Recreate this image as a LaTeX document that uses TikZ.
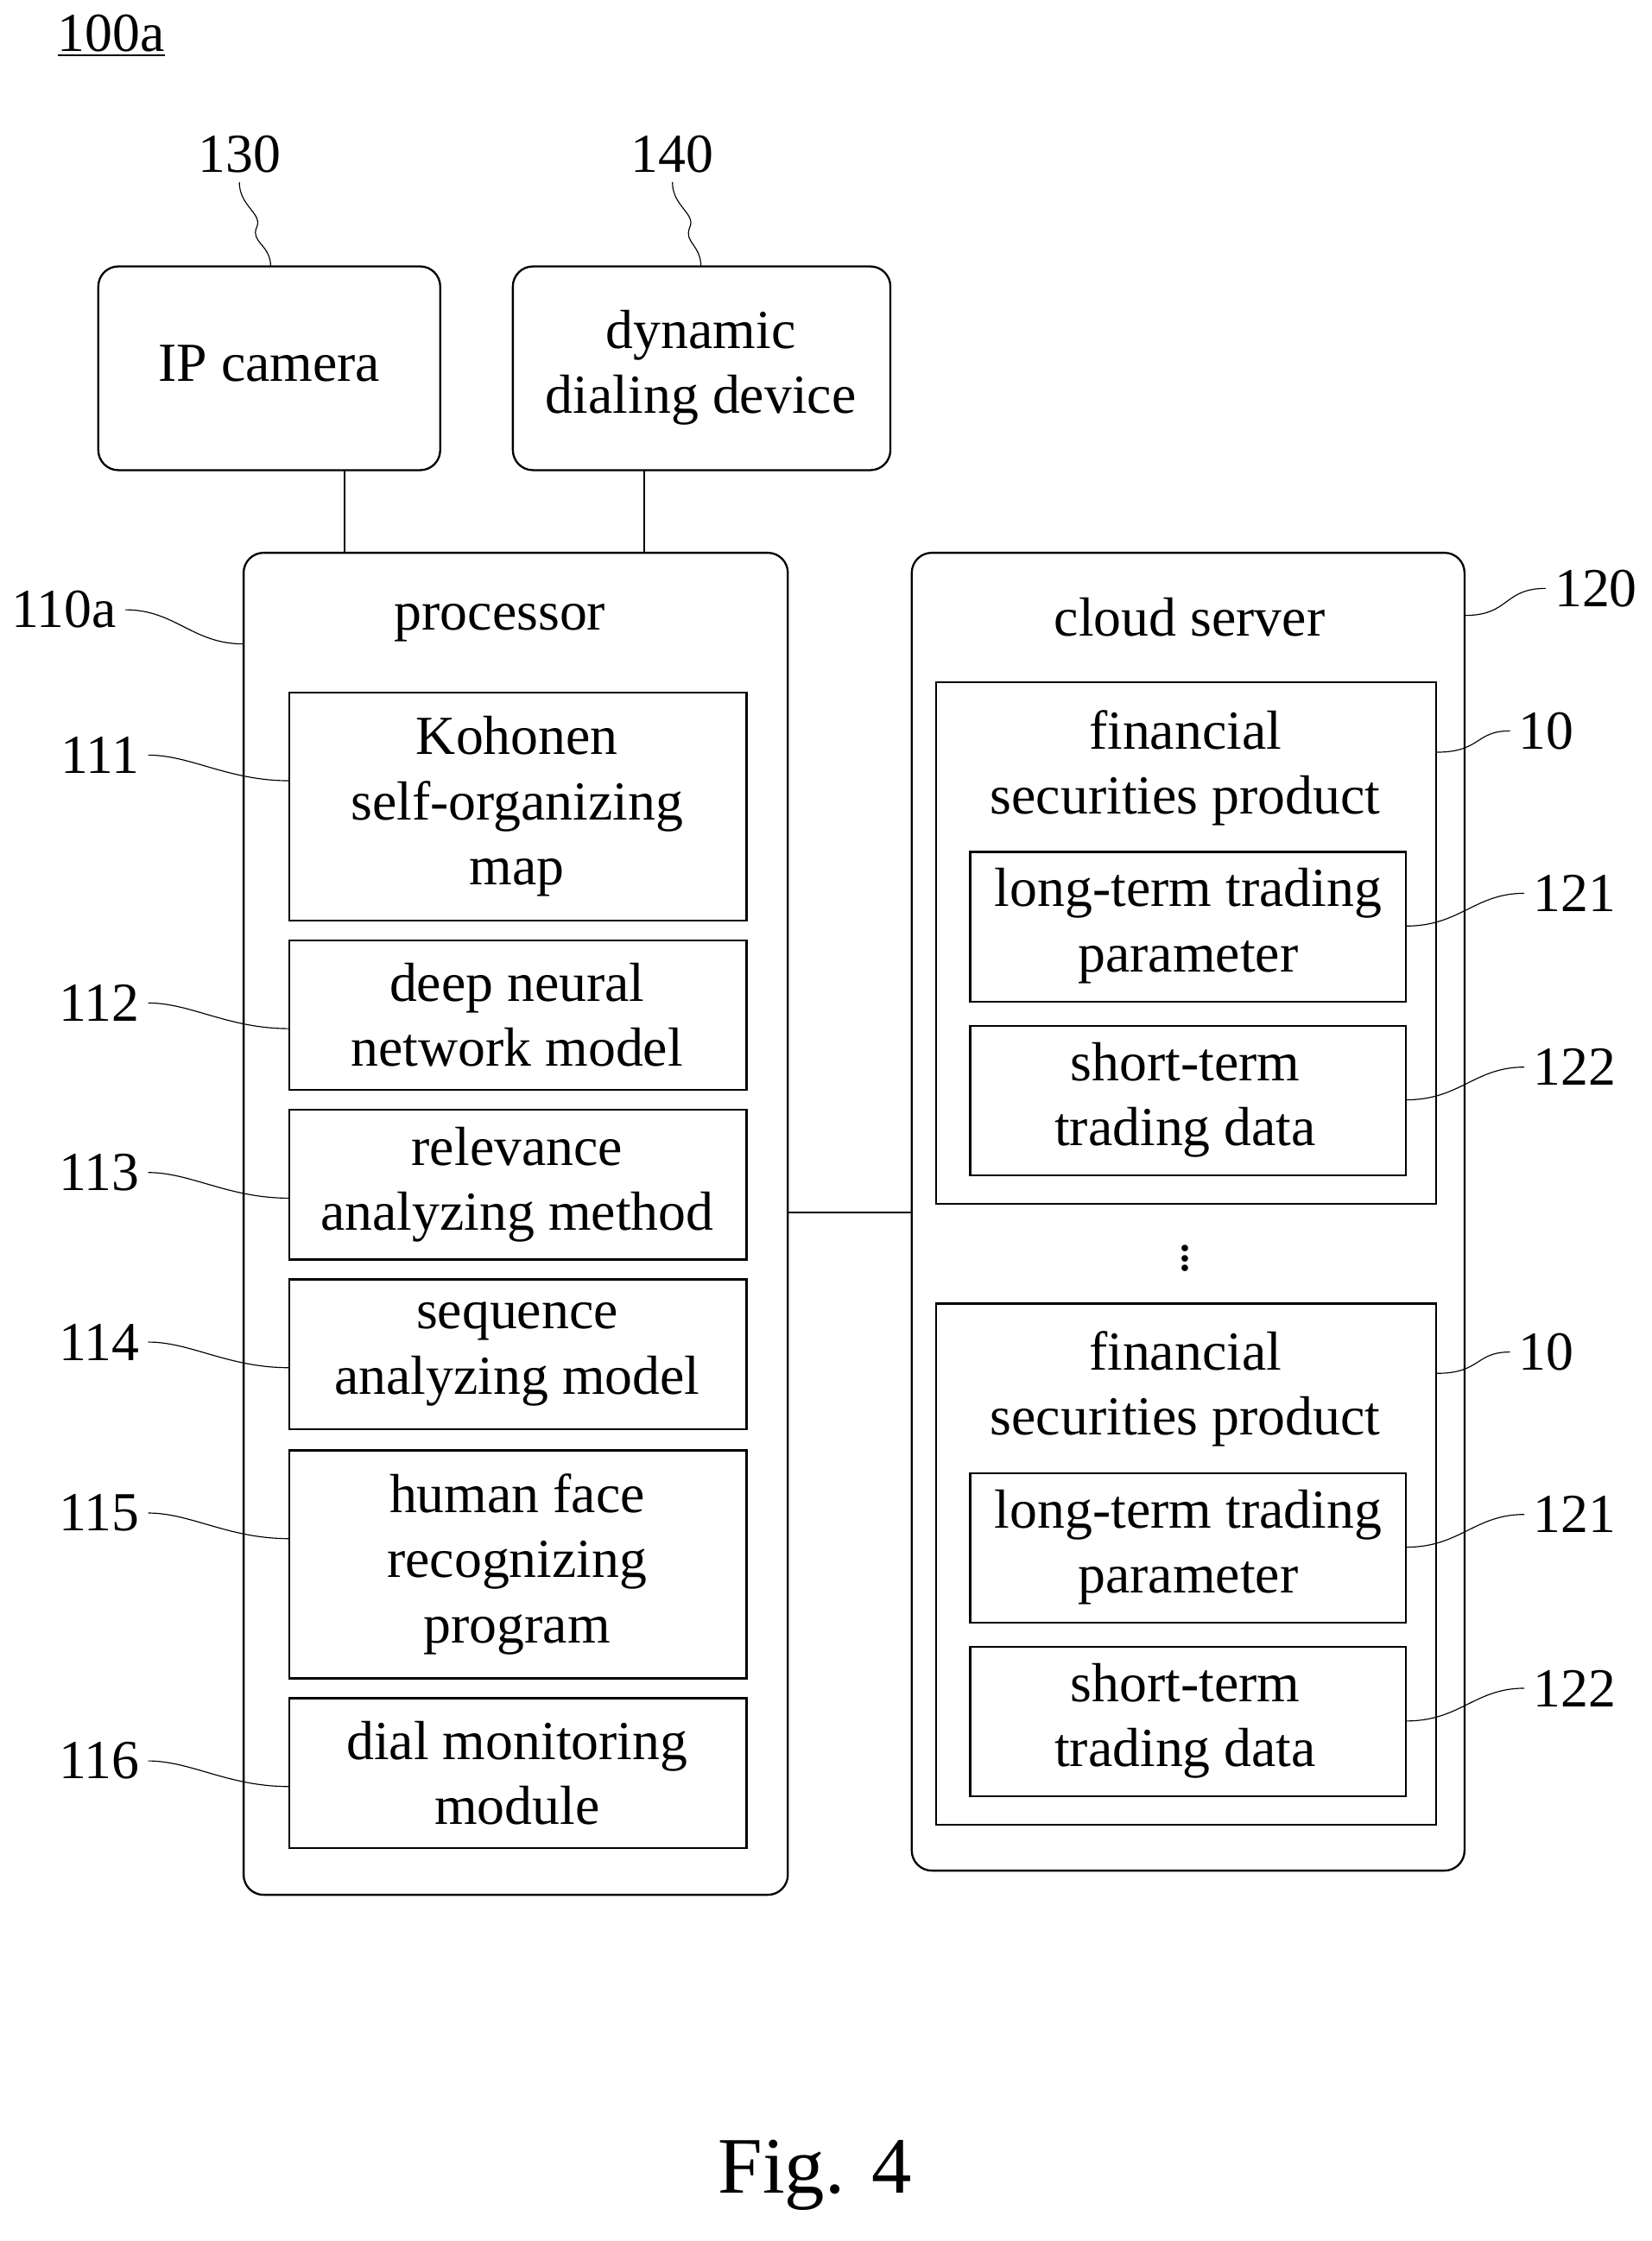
\documentclass[tikz,border=0pt]{standalone}
\usepackage{fontspec}
\setmainfont{Liberation Serif}
\begin{document}
\begin{tikzpicture}[x=0.02cm,y=-0.02cm,
    box/.style={draw, thick, rounded corners=8pt},
    unit/.style={draw, thick},
    txt/.style={align=center, font=\fontsize{22}{26}\selectfont},
    lbl/.style={font=\fontsize{22}{26}\selectfont},
    lead/.style={thin}]
    \useasboundingbox (0,0) rectangle (1159,1573);
    \node[lbl] (fig) at (78,25) {\underline{100a}};
    % top devices
    \draw[box] (69,187) rectangle (309,330);
    \node[txt] (cam) at (189,255) {IP camera};
    \draw[box] (360,187) rectangle (625,330);
    \node[txt] (dial) at (492,258) {dynamic\\dialing device};
    \node[lbl] (l130) at (168,108) {130};
    \node[lbl] (l140) at (472,108) {140};
    \draw[lead] (168,128) .. controls (168,145) and (185,150) .. (180,160) .. controls (176,170) and (190,172) .. (190,187);
    \draw[lead] (472,128) .. controls (472,145) and (489,150) .. (484,160) .. controls (480,170) and (492,172) .. (492,187);
    \draw[thick] (242,330) -- (242,388);
    \draw[thick] (452,330) -- (452,388);
    % processor
    \draw[box] (171,388) rectangle (553,1330);
    \node[txt] (proc) at (351,437) {processor};
    \foreach \top/\bot/\name/\txt in {486/646/111/{Kohonen\\self-organizing\\map},
        660/765/112/{deep neural\\network model},
        779/884/113/{relevance\\analyzing method},
        898/1003/114/{sequence\\analyzing model},
        1018/1178/115/{human face\\recognizing\\program},
        1192/1297/116/{dial monitoring\\module}}{
        \draw[unit] (203,\top) rectangle (524,\bot);
        \node[txt] (m\name) at (363,{(\top+\bot)/2}) {\txt};
        \node[lbl, anchor=east] (l\name) at (104,{\top+44}) {\name};
        \draw[lead] (l\name.east) .. controls +(30,0) and (160,{\top+62}) .. (203,{\top+62});
    }
    \node[lbl, anchor=east] (l110) at (88,428) {110a};
    \draw[lead] (l110.east) .. controls +(35,0) and (135,452) .. (171,452);
    % cloud server
    \draw[box] (640,388) rectangle (1028,1313);
    \node[txt] (cloud) at (835,433) {cloud server};
    \node[lbl, anchor=west] (l120) at (1085,413) {120};
    \draw[lead] (1028,432) .. controls (1060,432) and (1055,413) .. (l120.west);
    \draw[thick] (553,851) -- (640,851);
    \foreach \y in {479,915}{
        \draw[unit] (657,\y) rectangle (1008,{\y+366});
        \node[txt] (p\y) at (832,{\y+60}) {financial\\securities product};
        \node[lbl, anchor=west] (l10\y) at (1060,{\y+34}) {10};
        \draw[lead] (1008,{\y+49}) .. controls (1040,{\y+49}) and (1035,{\y+34}) .. (l10\y.west);
        \draw[unit] (681,{\y+119}) rectangle (987,{\y+224});
        \node[txt] (lt\y) at (834,{\y+171}) {long-term trading\\parameter};
        \node[lbl, anchor=west] (l121\y) at (1070,{\y+148}) {121};
        \draw[lead] (987,{\y+171}) .. controls (1025,{\y+171}) and (1035,{\y+148}) .. (l121\y.west);
        \draw[unit] (681,{\y+241}) rectangle (987,{\y+346});
        \node[txt] (st\y) at (832,{\y+293}) {short-term\\trading data};
        \node[lbl, anchor=west] (l122\y) at (1070,{\y+270}) {122};
        \draw[lead] (987,{\y+293}) .. controls (1025,{\y+293}) and (1035,{\y+270}) .. (l122\y.west);
    }
    \node[txt, inner sep=0pt] (dots) at (832,878) {$\vdots$};
    \node[font=\fontsize{32}{36}\selectfont] (cap) at (572,1527) {Fig. 4};
\end{tikzpicture}
\end{document}
